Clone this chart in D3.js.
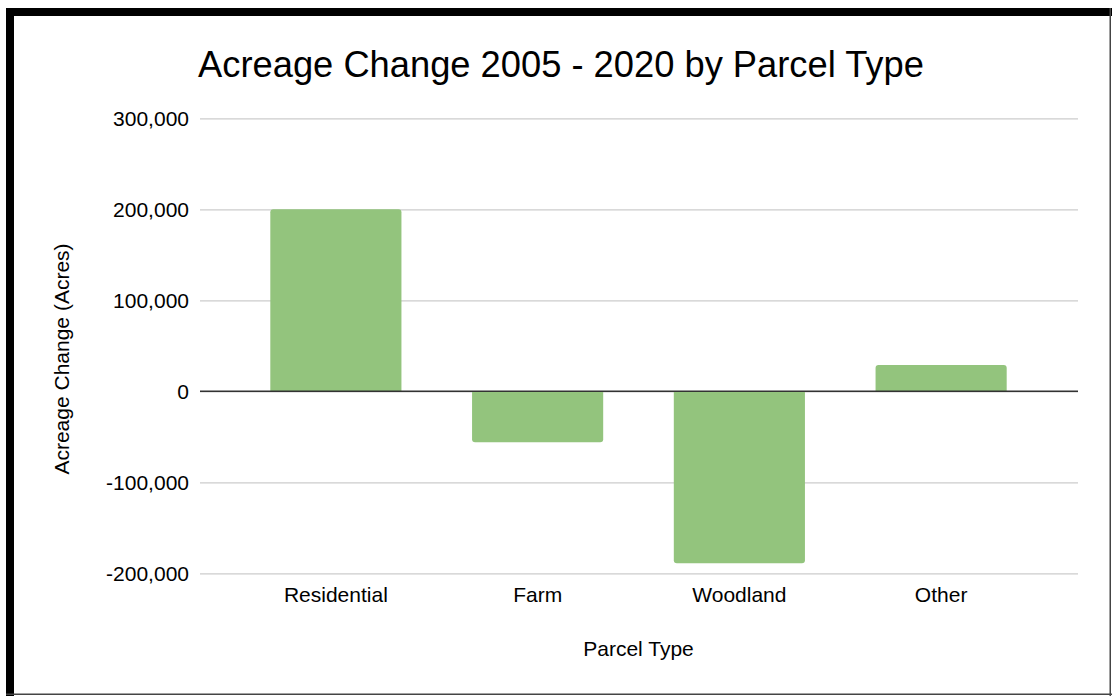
<!DOCTYPE html>
<html>
<head>
<meta charset="utf-8">
<script src="https://cdn.jsdelivr.net/npm/d3@7"></script>
<style>
  html, body { margin: 0; padding: 0; background: #fff; }
  svg { display: block; font-family: "Liberation Sans", Arial, sans-serif; }
</style>
</head>
<body>
<svg id="chart" width="1112" height="696"></svg>
<script>
const categories = ["Residential", "Farm", "Woodland", "Other"];
const values = [200000, -56000, -189000, 29000];
const yTicks = [-200000, -100000, 0, 100000, 200000, 300000];
const title = "Acreage Change 2005 - 2020 by Parcel Type";
const xTitle = "Parcel Type";
const yTitle = "Acreage Change (Acres)";

const svg = d3.select("#chart");
const W = 1112, H = 696;

// frame
svg.append("rect").attr("x", 0).attr("y", 0).attr("width", W).attr("height", H).attr("fill", "#fff");
svg.append("rect").attr("x", 6).attr("y", 8).attr("width", W - 6).attr("height", 8).attr("fill", "#000");
svg.append("rect").attr("x", 6).attr("y", 8).attr("width", 8).attr("height", H - 8).attr("fill", "#000");
svg.append("rect").attr("x", 1109.5).attr("y", 8).attr("width", 1.5).attr("height", H - 8).attr("fill", "#444");
svg.append("rect").attr("x", 6).attr("y", 693.5).attr("width", W - 6).attr("height", 1.5).attr("fill", "#444");

const gridX0 = 200, gridX1 = 1078;
const y = d3.scaleLinear().domain([-200000, 300000]).range([573.3, 118.3]);
const x = d3.scaleBand().domain(categories).range([235, 1042]).paddingInner(0.35).paddingOuter(0.175);

// title
svg.append("text").attr("x", 561).attr("y", 77).attr("text-anchor", "middle")
  .attr("font-size", 36.3).attr("fill", "#000").text(title);

// gridlines
const fmt = d3.format(",");
const yAxis = d3.axisLeft(y).tickValues(yTicks).tickSize(-(gridX1 - gridX0)).tickPadding(11)
  .tickFormat(d => fmt(d).replace("\u2212", "-"));
const gAxis = svg.append("g").attr("transform", `translate(${gridX0},0)`).call(yAxis);
gAxis.select(".domain").remove();
gAxis.selectAll(".tick line").attr("stroke", "#cccccc").attr("stroke-width", 1.2);
gAxis.selectAll(".tick text").attr("font-size", 21).attr("fill", "#000")
  .attr("font-family", "'Liberation Sans', Arial, sans-serif").attr("dy", "0.35em");

// bars with rounded far corners
const r = 3;
function barPath(d, i) {
  const x0 = x(categories[i]), w = x.bandwidth();
  const y0 = y(0), y1 = y(d);
  if (d >= 0) {
    return `M${x0},${y0} L${x0},${y1 + r} Q${x0},${y1} ${x0 + r},${y1} L${x0 + w - r},${y1} Q${x0 + w},${y1} ${x0 + w},${y1 + r} L${x0 + w},${y0} Z`;
  } else {
    return `M${x0},${y0} L${x0},${y1 - r} Q${x0},${y1} ${x0 + r},${y1} L${x0 + w - r},${y1} Q${x0 + w},${y1} ${x0 + w},${y1 - r} L${x0 + w},${y0} Z`;
  }
}
svg.append("g").selectAll("path").data(values).join("path")
  .attr("d", barPath).attr("fill", "#93c47d");

// zero line
svg.append("line").attr("x1", gridX0).attr("x2", gridX1).attr("y1", y(0)).attr("y2", y(0))
  .attr("stroke", "#333").attr("stroke-width", 1.5);

// category labels
const xAxis = d3.axisBottom(x).tickSize(0).tickPadding(0);
const gx = svg.append("g").attr("transform", `translate(0,602)`).call(xAxis);
gx.select(".domain").remove();
gx.selectAll(".tick text").attr("font-size", 21).attr("fill", "#000").attr("dy", 0)
  .attr("font-family", "'Liberation Sans', Arial, sans-serif");

// axis titles
svg.append("text").attr("x", 638.5).attr("y", 656).attr("text-anchor", "middle")
  .attr("font-size", 21).attr("fill", "#000").text(xTitle);
svg.append("text").attr("transform", "translate(69,359) rotate(-90)").attr("text-anchor", "middle")
  .attr("font-size", 21).attr("fill", "#000").text(yTitle);
</script>
</body>
</html>
